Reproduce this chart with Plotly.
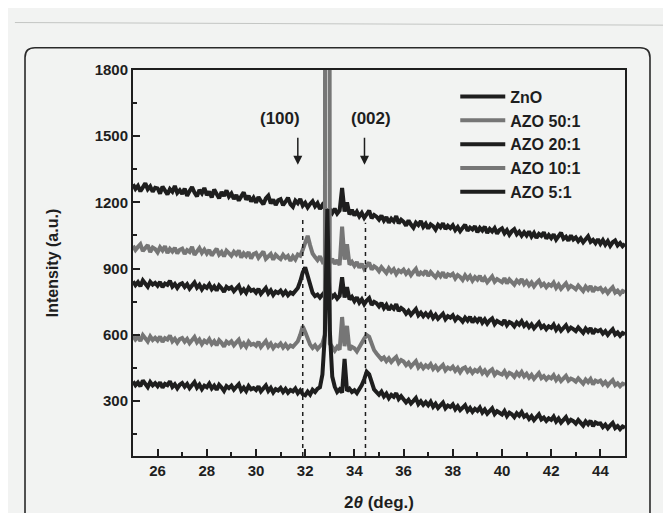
import plotly.graph_objects as go

# measurement grid (2theta, deg), 0.1 deg step
two_theta = [round(25 + 0.1 * i, 1) for i in range(201)]

azo_5_1 = [
    1282, 1261, 1275, 1250, 1268, 1286, 1259, 1272, 1248, 1266,
    1263, 1240, 1271, 1252, 1236, 1260, 1248, 1274, 1243, 1255,
    1238, 1262, 1230, 1251, 1269, 1244, 1227, 1256, 1241, 1265,
    1233, 1249, 1222, 1258, 1236, 1218, 1247, 1229, 1254, 1226,
    1240, 1215, 1233, 1208, 1227, 1245, 1212, 1230, 1204, 1221,
    1199, 1224, 1206, 1191, 1218, 1230, 1195, 1213, 1188, 1209,
    1214, 1187, 1203, 1221, 1192, 1180, 1208, 1196, 1215, 1185,
    1198, 1177, 1193, 1205, 1182, 1196, 1170, 1188, 1172, 1160,
    1168, 1152, 1171, 1149, 1163, 1265, 1158, 1200, 1145, 1166,
    1141, 1158, 1136, 1152, 1130, 1147, 1162, 1128, 1143, 1135,
    1122, 1140, 1117, 1133, 1108, 1126, 1114, 1138, 1105, 1121,
    1112, 1094, 1118, 1099, 1085, 1108, 1097, 1115, 1089, 1103,
    1081, 1100, 1092, 1076, 1098, 1087, 1105, 1079, 1094, 1083,
    1096, 1074, 1088, 1069, 1083, 1099, 1071, 1086, 1077, 1092,
    1065, 1084, 1072, 1090, 1061, 1079, 1068, 1083, 1058, 1075,
    1082, 1060, 1074, 1053, 1069, 1078, 1055, 1067, 1049, 1064,
    1050, 1068, 1045, 1061, 1039, 1057, 1048, 1064, 1036, 1052,
    1038, 1055, 1031, 1047, 1062, 1035, 1044, 1026, 1050, 1032,
    1041, 1024, 1037, 1019, 1035, 1046, 1021, 1030, 1015, 1033,
    1012, 1029, 1008, 1024, 1003, 1019, 1027, 1005, 1016, 1001,
    1012,
]

azo_10_1 = [
    1003, 984, 998, 1010, 979, 992, 1006, 975, 995, 988,
    973, 996, 982, 1001, 970, 989, 977, 994, 968, 985,
    990, 966, 983, 975, 998, 962, 980, 993, 971, 986,
    968, 984, 959, 977, 990, 963, 975, 955, 981, 970,
    958, 976, 964, 982, 950, 969, 957, 974, 945, 966,
    971, 949, 960, 977, 944, 958, 966, 940, 962, 951,
    943, 962, 948, 957, 935, 955, 941, 964, 958, 985,
    1015, 1048, 1005, 968, 952, 938, 955, 932, 946, 940,
    927, 944, 921, 938, 915, 1090, 940, 1010, 918, 930,
    912, 929, 904, 921, 898, 915, 927, 895, 910, 902,
    888, 906, 893, 880, 901, 885, 897, 875, 892, 884,
    895, 876, 889, 870, 885, 898, 868, 882, 874, 890,
    866, 884, 871, 860, 879, 865, 883, 858, 874, 868,
    876, 855, 870, 862, 848, 869, 853, 866, 845, 861,
    850, 867, 842, 858, 838, 855, 864, 840, 852, 845,
    838, 856, 833, 850, 841, 827, 846, 835, 852, 829,
    842, 824, 837, 819, 834, 845, 822, 831, 815, 828,
    821, 836, 812, 827, 808, 824, 833, 810, 822, 815,
    806, 823, 811, 798, 818, 804, 820, 795, 812, 806,
    812, 795, 806, 789, 803, 815, 791, 800, 785, 798,
    792,
]

azo_20_1 = [
    842, 825, 838, 820, 846, 831, 817, 840, 827, 835,
    822, 839, 815, 832, 826, 844, 818, 830, 812, 828,
    833, 816, 829, 809, 824, 837, 813, 826, 805, 821,
    812, 828, 806, 819, 800, 823, 811, 794, 817, 808,
    815, 797, 810, 822, 793, 806, 790, 813, 799, 804,
    791, 808, 785, 799, 812, 787, 801, 780, 795, 789,
    800, 782, 796, 779, 791, 785, 798, 812, 842, 882,
    905, 862, 815, 790, 775, 782, 768, 785, 795, 940,
    790, 770, 781, 763, 776, 860, 768, 815, 760, 772,
    752, 769, 745, 760, 738, 755, 766, 735, 749, 742,
    728, 744, 720, 735, 712, 729, 718, 738, 707, 721,
    712, 695, 708, 690, 703, 716, 688, 700, 684, 697,
    683, 699, 676, 690, 672, 686, 695, 670, 684, 677,
    688, 666, 680, 672, 659, 677, 664, 681, 656, 673,
    660, 677, 654, 669, 650, 665, 674, 648, 662, 655,
    648, 666, 643, 657, 651, 638, 656, 645, 661, 640,
    652, 634, 647, 629, 644, 655, 632, 641, 625, 638,
    631, 646, 622, 637, 618, 634, 643, 620, 632, 625,
    616, 633, 621, 608, 628, 614, 630, 605, 622, 616,
    622, 605, 616, 599, 613, 625, 601, 610, 595, 608,
    602,
]

azo_50_1 = [
    595, 578, 590, 572, 598, 583, 569, 592, 576, 586,
    574, 591, 567, 584, 578, 596, 570, 582, 564, 580,
    585, 568, 581, 561, 576, 589, 565, 578, 557, 573,
    564, 580, 558, 571, 552, 575, 563, 546, 569, 560,
    570, 552, 565, 577, 548, 561, 545, 568, 554, 559,
    550, 567, 544, 558, 571, 546, 560, 539, 554, 548,
    560, 542, 556, 539, 551, 545, 558, 570, 600, 638,
    612, 578, 555, 540, 552, 535, 548, 560, 600, 20000,
    560, 540, 528, 545, 532, 680, 548, 640, 530, 545,
    538, 524, 545, 562, 582, 598, 590, 560, 530, 515,
    502, 488, 497, 480, 493, 476, 489, 499, 472, 485,
    478, 462, 473, 455, 468, 480, 452, 465, 448, 461,
    452, 466, 445, 458, 441, 455, 463, 438, 451, 444,
    455, 436, 449, 430, 446, 452, 432, 444, 427, 440,
    433, 446, 425, 438, 420, 435, 443, 418, 431, 424,
    419, 434, 412, 427, 421, 409, 428, 415, 431, 411,
    423, 405, 418, 400, 414, 426, 403, 412, 397, 409,
    402, 416, 394, 408, 390, 404, 413, 392, 401, 396,
    387, 402, 391, 378, 397, 385, 399, 375, 392, 386,
    392, 375, 386, 370, 383, 394, 371, 380, 366, 378,
    373,
]

zno = [
    388, 371, 383, 366, 392, 377, 362, 385, 370, 380,
    367, 384, 360, 377, 371, 389, 363, 375, 357, 373,
    381, 364, 377, 357, 372, 385, 360, 374, 353, 369,
    362, 378, 356, 369, 350, 373, 361, 345, 367, 358,
    369, 351, 364, 376, 347, 360, 344, 367, 353, 358,
    349, 366, 343, 357, 370, 345, 359, 338, 353, 347,
    358, 340, 354, 337, 349, 343, 356, 335, 348, 330,
    325, 342, 328, 350, 340, 355, 362, 420, 600, 1170,
    620, 410, 365, 340, 352, 338, 490, 345, 355, 340,
    348, 335, 352, 372, 398, 432, 420, 385, 352, 340,
    328, 342, 320, 333, 312, 327, 318, 335, 308, 321,
    310, 293, 305, 288, 300, 313, 285, 298, 282, 294,
    280, 296, 273, 287, 268, 283, 292, 266, 279, 272,
    284, 262, 276, 258, 271, 280, 255, 268, 250, 264,
    255, 270, 247, 261, 242, 257, 266, 240, 253, 246,
    238, 254, 231, 246, 239, 226, 244, 233, 249, 228,
    236, 218, 231, 213, 227, 239, 216, 224, 209, 221,
    214, 229, 206, 220, 201, 217, 226, 203, 214, 208,
    197, 213, 201, 188, 207, 194, 210, 185, 202, 196,
    198, 181, 192, 176, 189, 200, 177, 186, 172, 184,
    178,
]

series_names = ["AZO 5:1", "AZO 10:1", "AZO 20:1", "AZO 50:1", "ZnO"]
series_values = [azo_5_1, azo_10_1, azo_20_1, azo_50_1, zno]
series_colors = ["#1e1e1e", "#767676", "#1e1e1e", "#767676", "#1e1e1e"]
legend_ranks = [5, 4, 3, 2, 1]

x_ticks = [26, 28, 30, 32, 34, 36, 38, 40, 42, 44]
y_ticks = [300, 600, 900, 1200, 1500, 1800]

peak_labels = ["(100)", "(002)"]
peak_label_x = [30.97, 34.68]
peak_arrow_x = [31.7, 34.41]
peak_line_x = [31.9, 34.45]
peak_line_top = [1122, 1108]

FONT = "Liberation Sans, Arial, sans-serif"
BG = "#f2f3f2"
INK = "#1e1e1e"

fig = go.Figure()
for name, vals, col, rk in zip(series_names, series_values, series_colors, legend_ranks):
    fig.add_trace(go.Scatter(
        x=two_theta, y=vals, mode="lines", name=name,
        line=dict(color=col, width=4), legendrank=rk,
    ))

# dashed guide lines
for xv, top in zip(peak_line_x, peak_line_top):
    fig.add_shape(type="line", x0=xv, x1=xv, y0=50, y1=top, xref="x", yref="y",
                  line=dict(color=INK, width=1.5, dash="4px,4px"), layer="above")

# peak labels with arrows
for lab, lx, ax_ in zip(peak_labels, peak_label_x, peak_arrow_x):
    fig.add_annotation(x=lx, y=1578, text=lab, showarrow=False, xref="x", yref="y",
                       font=dict(family=FONT, size=17, color=INK, weight="bold"))
    fig.add_annotation(x=ax_, y=1370, ax=ax_, ay=1500, xref="x", yref="y",
                       axref="x", ayref="y", text="", showarrow=True,
                       arrowhead=2, arrowsize=1.2, arrowwidth=1.5, arrowcolor=INK)

# outer rounded frame (paper coords)
L, R, T, B = -0.2195, 1.0508, 1.0578, -0.2
rx, ry = 0.0203, 0.0251
frame_path = (f"M{L},{B} L{L},{T-ry} Q{L},{T} {L+rx},{T} L{R-rx},{T} "
              f"Q{R},{T} {R},{T-ry} L{R},{B}")
fig.add_shape(type="path", path=frame_path, xref="paper", yref="paper",
              line=dict(color="#2a2a2a", width=1.6))
# faint page edge near the top of the scan
fig.add_shape(type="line", x0=-0.24, x1=1.11, y0=1.123, y1=1.116,
              xref="paper", yref="paper", line=dict(color="#c4c6c4", width=1))

tickfont = dict(family=FONT, size=15, color=INK, weight="bold")
fig.update_layout(
    width=671, height=513,
    margin=dict(l=125, r=54, t=62, b=53),
    paper_bgcolor=BG, plot_bgcolor=BG,
    showlegend=True,
    legend=dict(x=0.655, y=0.975, xanchor="left", yanchor="top",
                bgcolor="rgba(0,0,0,0)", itemwidth=45,
                font=dict(family=FONT, size=16, color=INK, weight="bold")),
    font=dict(family=FONT, color=INK),
)
fig.update_xaxes(
    range=[25, 45], tickvals=x_ticks, ticks="inside", ticklen=7, tickwidth=1.5,
    tickcolor=INK, minor=dict(dtick=1, tick0=25, ticks="inside", ticklen=4,
                              tickwidth=1.5, tickcolor=INK),
    showline=True, linewidth=2, linecolor=INK, mirror=True,
    showgrid=False, zeroline=False, tickfont=tickfont,
    title=dict(text="2<i>θ</i> (deg.)", standoff=18,
               font=dict(family=FONT, size=17, color=INK, weight="bold")),
)
fig.update_yaxes(
    range=[50, 1800], tickvals=y_ticks, ticks="inside", ticklen=7, tickwidth=1.5,
    tickcolor=INK, minor=dict(dtick=150, tick0=0, ticks="inside", ticklen=4,
                              tickwidth=1.5, tickcolor=INK),
    showline=True, linewidth=2, linecolor=INK, mirror=True,
    showgrid=False, zeroline=False, tickfont=tickfont,
    title=dict(text="Intensity (a.u.)", standoff=32,
               font=dict(family=FONT, size=16, color=INK, weight="bold")),
)

fig.write_html("out.html")
